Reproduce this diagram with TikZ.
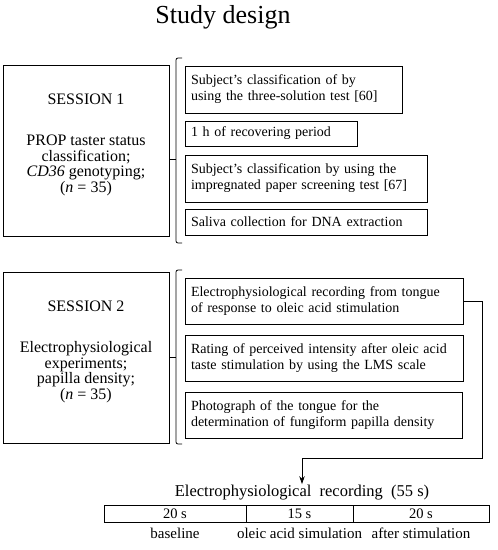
\documentclass[tikz,border=0pt]{standalone}
\usepackage{fontspec}
\setmainfont{Liberation Serif}
\usetikzlibrary{arrows.meta,positioning,calc}

\begin{document}
\begin{tikzpicture}[x=1pt, y=-1pt, >={Stealth[length=8pt,width=5.5pt]}, line width=0.8pt,
  session/.style={draw, outer sep=0pt, minimum width=166pt, minimum height=171pt,
    align=center, font=\fontsize{16}{15.5}\selectfont},
  task/.style={draw, outer sep=0pt, anchor=north west, align=left, inner xsep=6pt,
    font=\fontsize{14}{16}\selectfont},
  seg/.style={draw, outer sep=0pt, minimum height=17pt, inner sep=0pt,
    font=\fontsize{14.5}{15}\selectfont},
  phase/.style={inner sep=0pt, font=\fontsize{15}{16}\selectfont}]
% pixel coordinates, y grows downwards
\useasboundingbox (0,0) rectangle (498,550);
\node[font=\fontsize{26}{28}\selectfont] (title) at (223,17) {Study design};

% session 1 and what is done in it
\node[session] (s1) at (86,150.5) {SESSION 1\\[26pt]PROP taster status\\classification;\\\textit{CD36} genotyping;\\(\textit{n} = 35)\\\mbox{}};
\node[task, text width=205pt, minimum height=47pt] (t1) at (185,66) {Subject’s classification of by\\using the three-solution test [60]};
\node[task, text width=160pt, minimum height=25pt] (t2) at (185,121) {1 h of recovering period};
\node[task, text width=230pt, minimum height=47pt] (t3) at (185,155) {Subject’s classification by using the\\impregnated paper screening test [67]};
\node[task, text width=230pt, minimum height=26pt] (t4) at (185,209) {Saliva collection for DNA extraction};
\draw[rounded corners=2pt] (182,58) -- (176,58) -- (176,243) -- (182,243);
\draw (s1.east) ++(0,8.5) -- ++(7,0);

% session 2 and what is done in it
\node[session] (s2) at (86,357.5) {SESSION 2\\[26pt]Electrophysiological\\experiments;\\papilla density;\\(\textit{n} = 35)\\\mbox{}};
\node[task, text width=266pt, minimum height=46pt] (t5) at (185,278) {Electrophysiological recording from tongue\\of response to oleic acid stimulation};
\node[task, text width=266pt, minimum height=46pt] (t6) at (185,335) {Rating of perceived intensity after oleic acid\\taste stimulation by using the LMS scale};
\node[task, text width=265pt, minimum height=46pt] (t7) at (185,392) {Photograph of the tongue for the\\determination of fungiform papilla density};
\draw[rounded corners=2pt] (182,270) -- (176,270) -- (176,444) -- (182,444);
\draw (s2.east) -- ++(7,0);

% recording timeline
\node[font=\fontsize{16.5}{17}\selectfont, inner sep=1pt] (rec) at (302,493) {Electrophysiological\ \ recording\ \ (55 s)};
\coordinate (turn) at (482,458);
\draw[->] (t5.east) -| (turn) -| (rec.north);
\node[seg, anchor=north west, minimum width=142pt] (base) at (104,505) {20 s};
\node[seg, right=0pt of base, minimum width=107pt] (stim) {15 s};
\node[seg, right=0pt of stim, minimum width=136pt] (after) {20 s};
\node[phase, below=6pt of base] (lb1) {baseline};
\node[phase, below=6pt of stim] (lb2) {oleic acid simulation};
\node[phase, below=6pt of after] (lb3) {after stimulation};
\end{tikzpicture}
\end{document}
